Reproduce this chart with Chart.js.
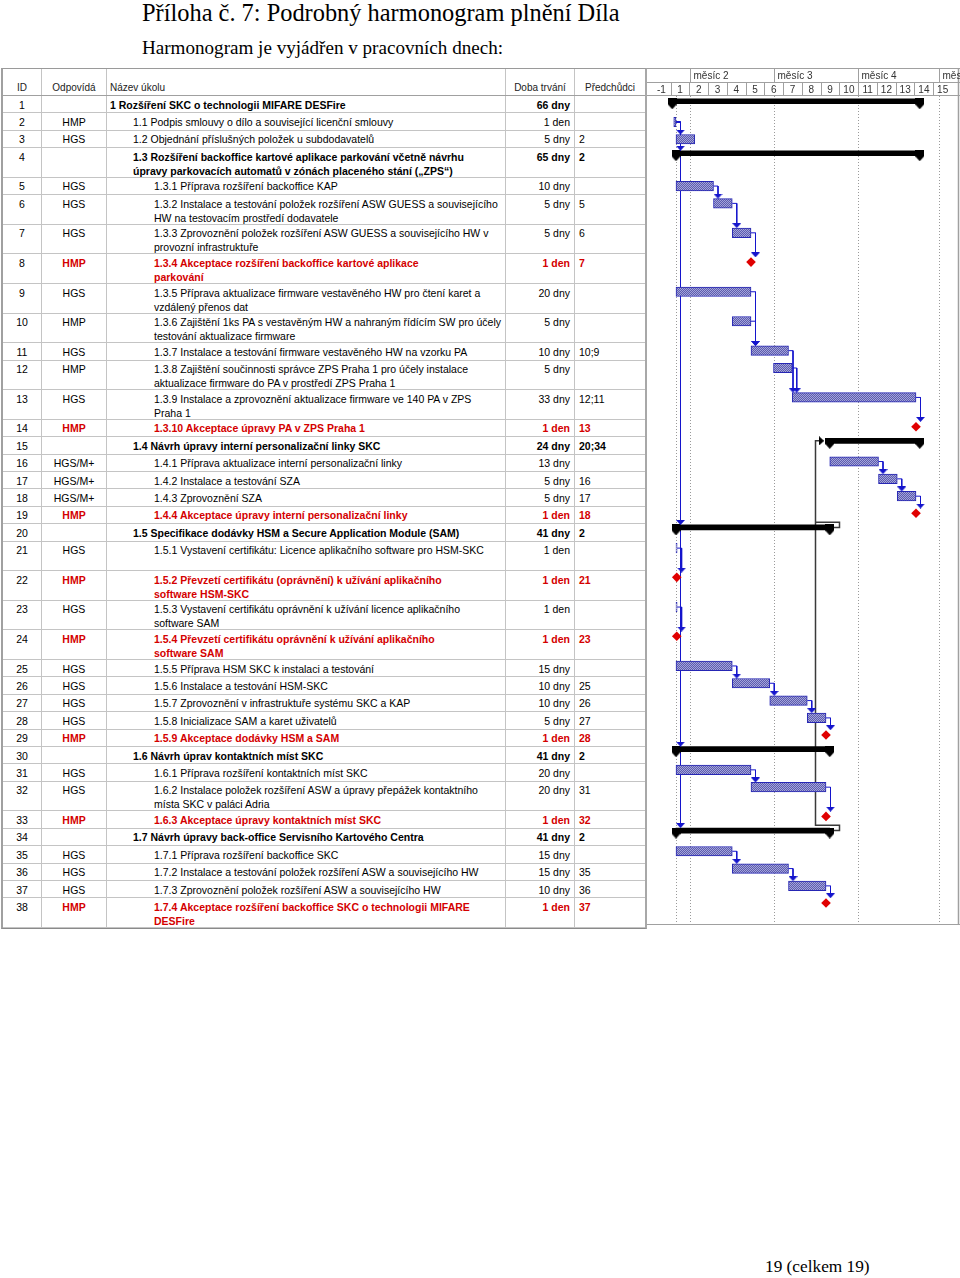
<!DOCTYPE html>
<html lang="cs">
<head>
<meta charset="utf-8">
<title>Příloha č. 7: Podrobný harmonogram plnění Díla</title>
<script src="https://cdn.jsdelivr.net/npm/chart.js@4.4.1/dist/chart.umd.min.js"></script>
<style>
  html, body { margin: 0; padding: 0; background: #fff; }
  body { position: relative; width: 960px; height: 1278px; overflow: hidden; }
  .serif { position: absolute; font-family: "Liberation Serif", "Times New Roman", serif; line-height: 1; white-space: nowrap; color: #000; }
  #title { left: 142px; top: 1px; font-size: 24.4px; }
  #subtitle { left: 142px; top: 38px; font-size: 19.1px; }
  #footer { left: 765px; top: 1258px; font-size: 17.3px; }
  #table { position: absolute; left: 1px; top: 68px; width: 646px; height: 861px; box-sizing: border-box;
           border-top: 1px solid #9a9a9a; border-bottom: 1px solid #8a8a8a; border-left: 2px solid #a0a0a0; border-right: 2px solid #a8a8a8;
           font-family: "Liberation Sans", Arial, sans-serif; font-size: 10.5px; color: #000; }
  .row { position: absolute; left: 0; right: 0; box-sizing: border-box; border-bottom: 1px solid #c4c4c4; }
  .head { border-bottom: 1px solid #a0a0a0; color: #222; font-size: 10px; }
  .cell { position: absolute; top: 0; bottom: 0; box-sizing: border-box; border-right: 1px solid #c4c4c4;
          line-height: 14px; padding-top: 1.5px; white-space: pre; overflow: hidden; }
  .head .cell { padding-top: 12px; }
  .c-id { left: 0; width: 39px; text-align: center; }
  .c-own { left: 39px; width: 65px; text-align: center; }
  .c-name { left: 104px; width: 399px; }
  .c-dur { left: 503px; width: 69px; text-align: right; padding-right: 4px; }
  .c-pred { left: 572px; width: 70px; padding-left: 4px; border-right: none; }
  .head .c-dur, .head .c-pred { text-align: center; padding: 12px 0 0 0; }
  .bold { font-weight: bold; }
  .red { color: #d40000; font-weight: bold; }
  #gantt { position: absolute; left: 647px; top: 68px; }
</style>
</head>
<body>
<div id="title" class="serif">Příloha č. 7: Podrobný harmonogram plnění Díla</div>
<div id="subtitle" class="serif">Harmonogram je vyjádřen v pracovních dnech:</div>
<div id="table"></div>
<canvas id="gantt" width="313" height="861"></canvas>
<div id="footer" class="serif">19 (celkem 19)</div>
<script>
// rows of the schedule
const rowLines = [1, 1, 1, 2, 1, 2, 2, 2, 2, 2, 1, 2, 2, 1, 1, 1, 1, 1, 1, 1,
                  2, 2, 2, 2, 1, 1, 1, 1, 1, 1, 1, 2, 1, 1, 1, 1, 1, 2];
const owners = ['', 'HMP', 'HGS', '', 'HGS', 'HGS', 'HGS', 'HMP', 'HGS', 'HMP',
                'HGS', 'HMP', 'HGS', 'HMP', '', 'HGS/M+', 'HGS/M+', 'HGS/M+', 'HMP', '',
                'HGS', 'HMP', 'HGS', 'HMP', 'HGS', 'HGS', 'HGS', 'HGS', 'HMP', '',
                'HGS', 'HGS', 'HMP', '', 'HGS', 'HGS', 'HGS', 'HMP'];
const taskNames = [
  '1 Rozšíření SKC o technologii MIFARE DESFire',
  '1.1 Podpis smlouvy o dílo a související licenční smlouvy',
  '1.2 Objednání příslušných položek u subdodavatelů',
  '1.3 Rozšíření backoffice kartové aplikace parkování včetně návrhu\núpravy parkovacích automatů v zónách placeného stání („ZPS“)',
  '1.3.1 Příprava rozšíření backoffice KAP',
  '1.3.2 Instalace a testování položek rozšíření ASW GUESS a souvisejícího\nHW na testovacím prostředí dodavatele',
  '1.3.3 Zprovoznění položek rozšíření ASW GUESS a souvisejícího HW v\nprovozní infrastruktuře',
  '1.3.4 Akceptace rozšíření backoffice kartové aplikace\nparkování',
  '1.3.5 Příprava aktualizace firmware vestavěného HW pro čtení karet a\nvzdálený přenos dat',
  '1.3.6 Zajištění 1ks PA s vestavěným HW a nahraným řídícím SW pro účely\ntestování aktualizace firmware',
  '1.3.7 Instalace a testování firmware vestavěného HW na vzorku PA',
  '1.3.8 Zajištění součinnosti správce ZPS Praha 1 pro účely instalace\naktualizace firmware do PA v prostředí ZPS Praha 1',
  '1.3.9 Instalace a zprovoznění aktualizace firmware ve 140 PA v ZPS\nPraha 1',
  '1.3.10 Akceptace úpravy PA v ZPS Praha 1',
  '1.4 Návrh úpravy interní personalizační linky SKC',
  '1.4.1 Příprava aktualizace interní personalizační linky',
  '1.4.2 Instalace a testování SZA',
  '1.4.3 Zprovoznění SZA',
  '1.4.4 Akceptace úpravy interní personalizační linky',
  '1.5 Specifikace dodávky HSM a Secure Application Module (SAM)',
  '1.5.1 Vystavení certifikátu: Licence aplikačního software pro HSM-SKC',
  '1.5.2 Převzetí certifikátu (oprávnění) k užívání aplikačního\nsoftware HSM-SKC',
  '1.5.3 Vystavení certifikátu oprávnění k užívání licence aplikačního\nsoftware SAM',
  '1.5.4 Převzetí certifikátu oprávnění k užívání aplikačního\nsoftware SAM',
  '1.5.5 Příprava HSM SKC k instalaci a testování',
  '1.5.6 Instalace a testování HSM-SKC',
  '1.5.7 Zprovoznění v infrastruktuře systému SKC a KAP',
  '1.5.8 Inicializace SAM a karet uživatelů',
  '1.5.9 Akceptace dodávky HSM a SAM',
  '1.6 Návrh úprav kontaktních míst SKC',
  '1.6.1 Příprava rozšíření kontaktních míst SKC',
  '1.6.2 Instalace položek rozšíření ASW a úpravy přepážek kontaktního\nmísta SKC v paláci Adria',
  '1.6.3 Akceptace úpravy kontaktních míst SKC',
  '1.7 Návrh úpravy back-office Servisního Kartového Centra',
  '1.7.1 Příprava rozšíření backoffice SKC',
  '1.7.2 Instalace a testování položek rozšíření ASW a souvisejícího HW',
  '1.7.3 Zprovoznění položek rozšíření ASW a souvisejícího HW',
  '1.7.4 Akceptace rozšíření backoffice SKC o technologii MIFARE\nDESFire'
];
const levels = [0, 1, 1, 1, 2, 2, 2, 2, 2, 2, 2, 2, 2, 2, 1, 2, 2, 2, 2, 1,
                2, 2, 2, 2, 2, 2, 2, 2, 2, 1, 2, 2, 2, 1, 2, 2, 2, 2];
const durations = ['66 dny', '1 den', '5 dny', '65 dny', '10 dny', '5 dny', '5 dny', '1 den', '20 dny', '5 dny',
                   '10 dny', '5 dny', '33 dny', '1 den', '24 dny', '13 dny', '5 dny', '5 dny', '1 den', '41 dny',
                   '1 den', '1 den', '1 den', '1 den', '15 dny', '10 dny', '10 dny', '5 dny', '1 den', '41 dny',
                   '20 dny', '20 dny', '1 den', '41 dny', '15 dny', '15 dny', '10 dny', '1 den'];
const predecessors = ['', '', '2', '2', '', '5', '6', '7', '', '',
                      '10;9', '', '12;11', '13', '20;34', '', '16', '17', '18', '2',
                      '', '21', '', '23', '', '25', '26', '27', '28', '2',
                      '', '31', '32', '2', '', '35', '36', '37'];
const kinds = ['summary', 'task', 'task', 'summary', 'task', 'task', 'task', 'milestone', 'task', 'task',
               'task', 'task', 'task', 'milestone', 'summary', 'task', 'task', 'task', 'milestone', 'summary',
               'task', 'milestone', 'task', 'milestone', 'task', 'task', 'task', 'task', 'milestone', 'summary',
               'task', 'task', 'milestone', 'summary', 'task', 'task', 'task', 'milestone'];
// working days from project start
const starts = [0, 0.4, 1, 1, 1, 11, 16, 21, 1, 16,
                21, 27, 32, 65, 42, 42, 55, 60, 65, 1,
                1, 1.2, 1, 1.2, 1, 16, 26, 36, 41, 1,
                1, 21, 41, 1, 1, 16, 31, 41];
const ends = [66, 1.0, 6, 66, 11, 16, 21, 21, 21, 21,
              31, 32, 65, 65, 66, 55, 60, 65, 65, 42,
              1.3, 1.2, 1.3, 1.2, 16, 26, 36, 41, 41, 42,
              21, 41, 41, 42, 16, 31, 41, 41];

// time axis header
const weekLabels = ['-1', '1', '2', '3', '4', '5', '6', '7', '8', '9', '10', '11', '12', '13', '14', '15'];
const monthLabels = ['', 'měsíc 2', 'měsíc 3', 'měsíc 4', 'měsíc 5'];
const monthStarts = [-5.4, 4.85, 27.2, 49.6, 71.1];
const projectStart = 1.1;

const X_MIN = -5.4, X_MAX = 75.4;
const ROW1 = 17.4, ROW2 = 29.6;
const BLUE = '#1414cc', DARK = '#3a3a3a';

const rowTops = [];
let rowsHeight = 0;
rowLines.forEach(n => { rowTops.push(rowsHeight); rowsHeight += n > 1 ? ROW2 : ROW1; });

// ---- left table
const table = document.getElementById('table');
function addRow(top, height, cells, cls) {
  const row = document.createElement('div');
  row.className = 'row' + (cls ? ' ' + cls : '');
  row.style.top = top + 'px';
  row.style.height = height + 'px';
  cells.forEach(c => {
    const d = document.createElement('div');
    d.className = 'cell ' + c.cls;
    d.textContent = c.text;
    if (c.indent != null) d.style.paddingLeft = c.indent + 'px';
    row.appendChild(d);
  });
  table.appendChild(row);
}
addRow(0, 27, [
  { cls: 'c-id', text: 'ID' },
  { cls: 'c-own', text: 'Odpovídá' },
  { cls: 'c-name', text: 'Název úkolu', indent: 3 },
  { cls: 'c-dur', text: 'Doba trvání' },
  { cls: 'c-pred', text: 'Předchůdci' }
], 'head');
const indents = [3, 26, 47];
taskNames.forEach((name, i) => {
  const k = kinds[i];
  const style = k === 'milestone' ? ' red' : (k === 'summary' ? ' bold' : '');
  addRow(27 + rowTops[i], rowLines[i] > 1 ? ROW2 : ROW1, [
    { cls: 'c-id', text: String(i + 1) },
    { cls: 'c-own' + (k === 'milestone' ? ' red' : ''), text: owners[i] },
    { cls: 'c-name' + style, text: name, indent: indents[levels[i]] },
    { cls: 'c-dur' + style, text: durations[i] },
    { cls: 'c-pred' + style, text: predecessors[i] }
  ]);
});

// ---- gantt marks
function shape(w, h, color, pts) {
  const c = document.createElement('canvas');
  c.width = w; c.height = h;
  const g = c.getContext('2d');
  g.fillStyle = color;
  g.beginPath();
  pts.forEach((p, i) => i ? g.lineTo(p[0], p[1]) : g.moveTo(p[0], p[1]));
  g.closePath();
  g.fill();
  return c;
}
const capImg = shape(9, 11, '#000', [[0, 0], [9, 0], [9, 6], [4.5, 11], [0, 6]]);
const downArrowImg = shape(9, 5, BLUE, [[0, 0], [9, 0], [4.5, 5]]);
const darkDownImg = shape(9, 5, DARK, [[0, 0], [9, 0], [4.5, 5]]);
const rightArrowImg = shape(5, 9, '#000', [[0, 0], [5, 4.5], [0, 9]]);

function hatch() {
  const c = document.createElement('canvas');
  c.width = 2; c.height = 2;
  const g = c.getContext('2d');
  g.fillStyle = '#a4a4da'; g.fillRect(0, 0, 2, 2);
  g.fillStyle = '#5c5cae'; g.fillRect(0, 0, 1, 1); g.fillRect(1, 1, 1, 1);
  return g.createPattern(c, 'repeat');
}

const BAR_C = 8.7, SUM_C = 5.3, CAP_C = 7.8, MS_C = 8.5;
const centerOff = k => k === 'summary' ? SUM_C : (k === 'milestone' ? MS_C : BAR_C);
const topOff = k => k === 'summary' ? SUM_C - 2.5 : (k === 'milestone' ? MS_C - 4.8 : BAR_C - 4.75);

const taskBars = [], summaryBars = [], summaryCaps = [], milestonePts = [];
kinds.forEach((k, i) => {
  if (k === 'task') taskBars.push({ x: [starts[i], ends[i]], y: rowTops[i] + BAR_C });
  else if (k === 'summary') {
    summaryBars.push({ x: [starts[i], ends[i]], y: rowTops[i] + SUM_C });
    summaryCaps.push({ x: starts[i], y: rowTops[i] + CAP_C }, { x: ends[i], y: rowTops[i] + CAP_C });
  } else milestonePts.push({ x: starts[i], y: rowTops[i] + MS_C });
});

const GAP = { x: null, y: null };
const blueLinks = [], darkLinks = [], blueArrows = [], darkArrows = [], rightArrows = [];
predecessors.forEach((p, i) => {
  if (!p) return;
  p.split(';').forEach(s => {
    const j = Number(s) - 1;
    const pe = ends[j];
    const py = rowTops[j] + centerOff(kinds[j]);
    const dark = kinds[j] === 'summary';
    if (i > j) {
      const lx = pe + 1.2;
      const tip = rowTops[i] + topOff(kinds[i]);
      (dark ? darkLinks : blueLinks).push({ x: pe, y: py }, { x: lx, y: py }, { x: lx, y: tip - 3 }, GAP);
      (dark ? darkArrows : blueArrows).push({ x: lx, y: tip - 2.5 });
    } else {
      // successor sits above its predecessor: loop back to its start
      const sy = rowTops[i] + centerOff(kinds[i]);
      const rx = pe + 2.6, lx = starts[i] - 3.8, ax = starts[i] - 2.3;
      darkLinks.push({ x: pe, y: py }, { x: rx, y: py }, { x: rx, y: rowTops[j] }, { x: lx, y: rowTops[j] },
                     { x: lx, y: sy }, { x: ax, y: sy }, GAP);
      rightArrows.push({ x: ax, y: sy });
    }
  });
});

const ganttFrame = {
  id: 'ganttFrame',
  beforeDatasetsDraw(chart) {
    const { ctx, chartArea, scales: { x } } = chart;
    ctx.save();
    ctx.strokeStyle = '#9a9a9a';
    ctx.lineWidth = 1;
    ctx.setLineDash([1, 2]);
    [projectStart, ...monthStarts.slice(1)].forEach(d => {
      const px = Math.round(x.getPixelForValue(d)) + 0.5;
      ctx.beginPath();
      ctx.moveTo(px, chartArea.top);
      ctx.lineTo(px, chartArea.bottom);
      ctx.stroke();
    });
    ctx.restore();
  },
  afterDraw(chart) {
    const { ctx, chartArea, scales: { x } } = chart;
    const w = chart.width;
    ctx.save();
    ctx.strokeStyle = '#a0a0a0';
    ctx.lineWidth = 1;
    const hline = y => { ctx.beginPath(); ctx.moveTo(0, y); ctx.lineTo(w, y); ctx.stroke(); };
    const vline = (px, y0, y1) => { ctx.beginPath(); ctx.moveTo(px, y0); ctx.lineTo(px, y1); ctx.stroke(); };
    hline(0.5); hline(14.5); hline(27.5);
    hline(Math.round(chartArea.bottom) + 0.5);
    ctx.lineWidth = 1.5;
    vline(w - 1.5, 0, chartArea.bottom + 1);
    ctx.lineWidth = 1;
    ctx.font = '10px "Liberation Sans", Arial, sans-serif';
    ctx.fillStyle = '#333';
    ctx.textBaseline = 'alphabetic';
    monthStarts.forEach((d, i) => {
      const px = Math.round(x.getPixelForValue(d)) + 0.5;
      if (i > 0) vline(px, 0.5, 14.5);
      ctx.textAlign = 'left';
      if (monthLabels[i]) ctx.fillText(monthLabels[i], px + 3, 11);
    });
    weekLabels.forEach((lab, i) => {
      const d0 = X_MIN + 5 * i;
      const p0 = x.getPixelForValue(d0), p1 = x.getPixelForValue(d0 + 5);
      if (i > 0) vline(Math.round(p0) + 0.5, 14.5, 27.5);
      ctx.textAlign = 'center';
      ctx.fillText(lab, (p0 + p1) / 2, 25);
    });
    ctx.restore();
  }
};

new Chart(document.getElementById('gantt'), {
  type: 'scatter',
  data: {
    datasets: [
      { data: milestonePts, pointStyle: 'rectRot', pointRadius: 4.8, backgroundColor: '#e00000', borderColor: '#e00000', borderWidth: 0 },
      { data: blueArrows, pointStyle: downArrowImg },
      { data: darkArrows, pointStyle: darkDownImg },
      { data: rightArrows, pointStyle: rightArrowImg },
      { data: summaryCaps, pointStyle: capImg },
      { type: 'bar', indexAxis: 'y', grouped: false, data: summaryBars, barThickness: 5,
        backgroundColor: '#000', borderWidth: 0 },
      { type: 'bar', indexAxis: 'y', grouped: false, data: taskBars, barThickness: 9.5,
        backgroundColor: hatch(), borderColor: '#2626b4', borderWidth: 1, borderSkipped: false },
      { type: 'line', data: blueLinks, borderColor: BLUE, borderWidth: 1, pointRadius: 0, tension: 0, spanGaps: false, fill: false },
      { type: 'line', data: darkLinks, borderColor: DARK, borderWidth: 1.5, pointRadius: 0, tension: 0, spanGaps: false, fill: false }
    ]
  },
  options: {
    responsive: false,
    animation: false,
    events: [],
    layout: { padding: { top: 28, bottom: 1, left: 0, right: 0 } },
    plugins: { legend: { display: false }, tooltip: { enabled: false } },
    scales: {
      x: { type: 'linear', min: X_MIN, max: X_MAX, offset: false, display: false },
      y: { type: 'linear', min: 0, max: rowsHeight, reverse: true, offset: false, display: false }
    }
  },
  plugins: [ganttFrame]
});
</script>
</body>
</html>
